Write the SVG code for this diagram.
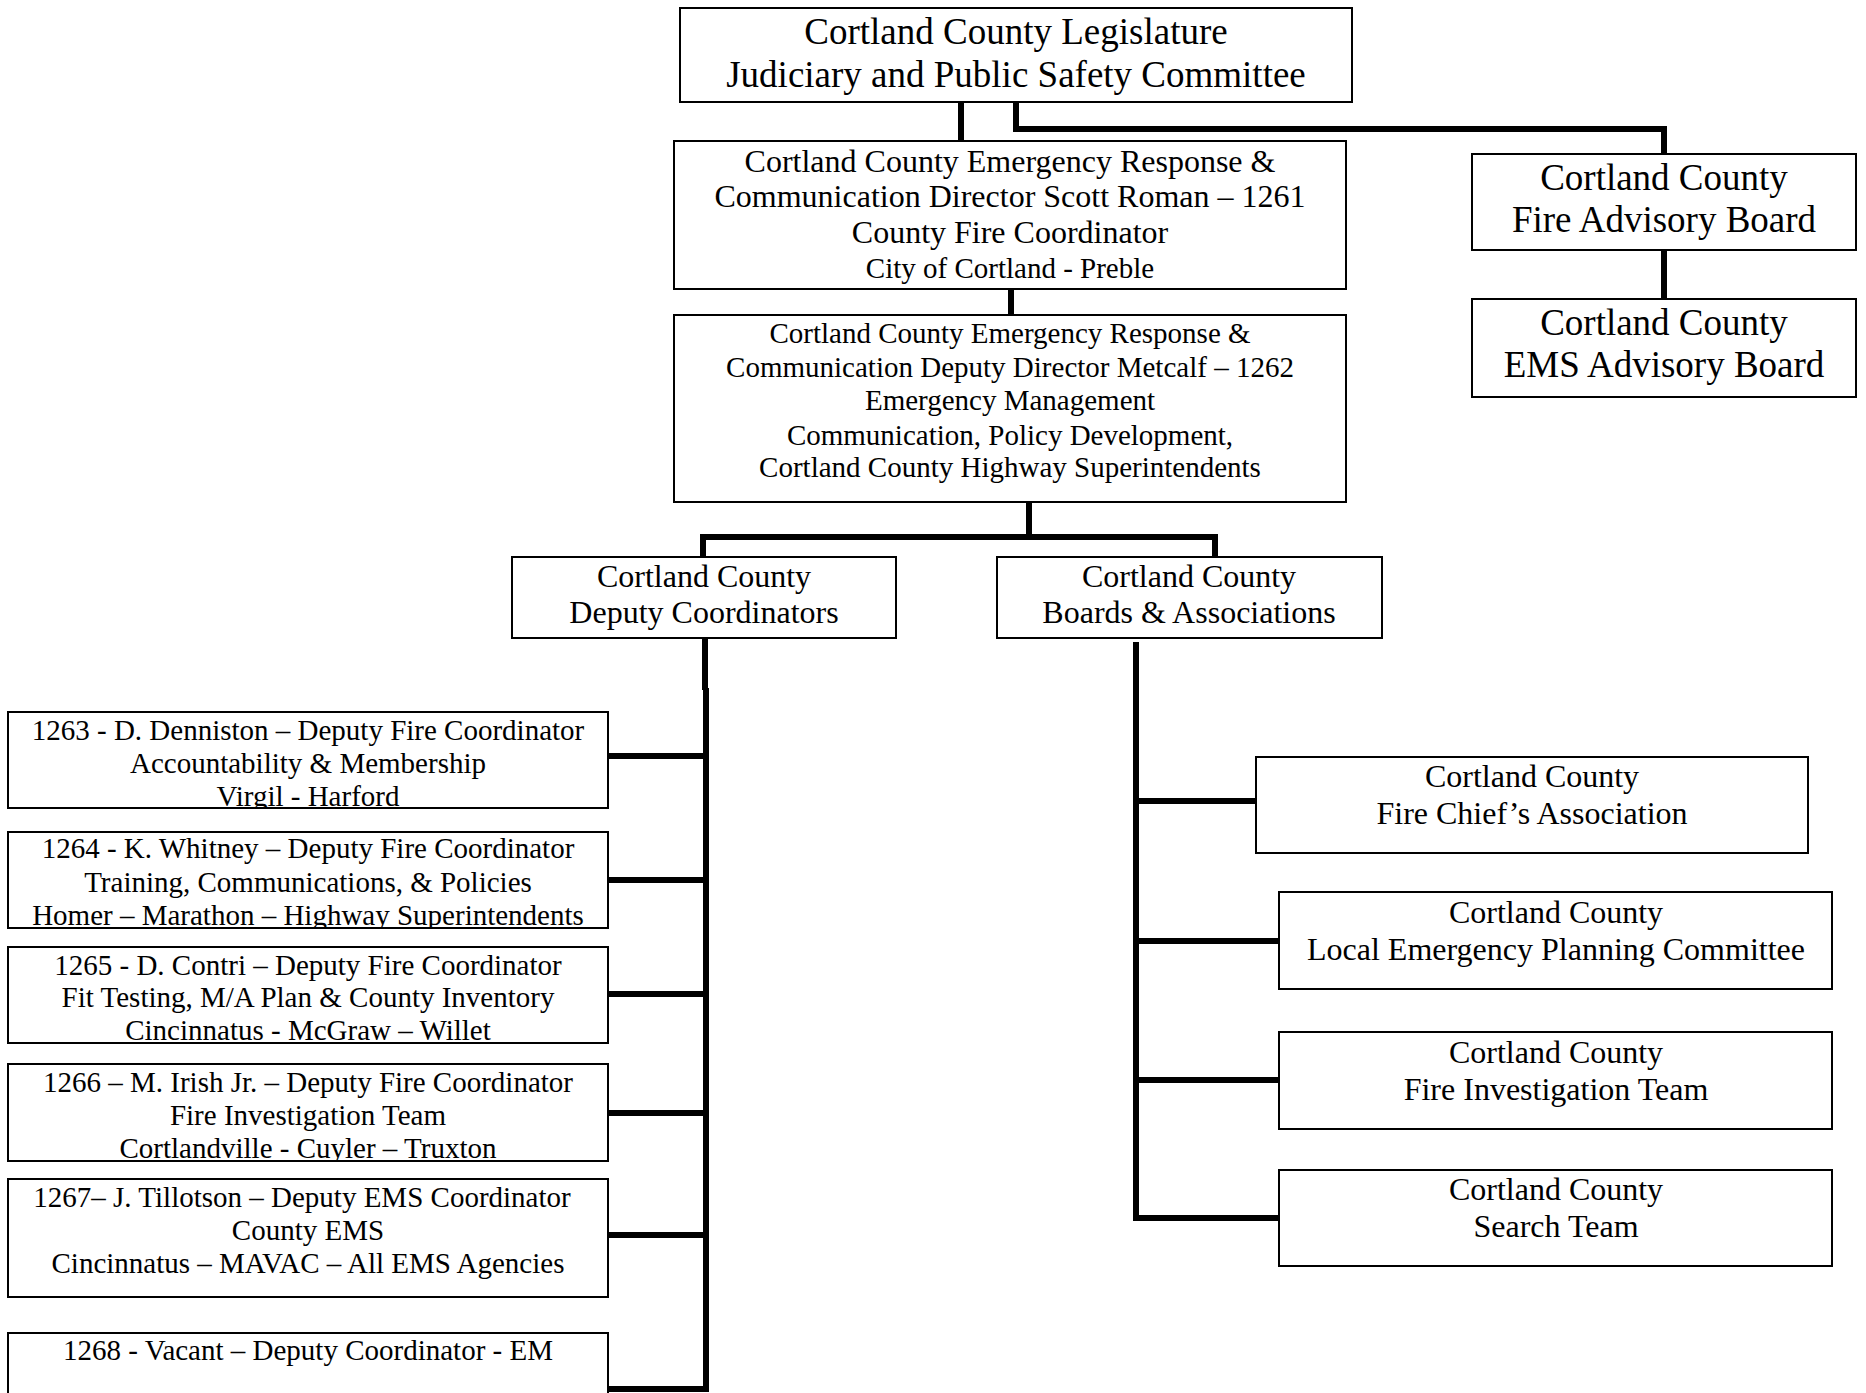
<svg xmlns="http://www.w3.org/2000/svg" width="1866" height="1393" viewBox="0 0 1866 1393">
<style>
.box{fill:#fff;stroke:#000;stroke-width:2}
.conn{fill:none;stroke:#000;stroke-width:6}
text{font-family:"Liberation Serif","Times New Roman",serif;fill:#000;text-anchor:middle}
.f37{font-size:37px}
.f32{font-size:32px}
.f29{font-size:29px}
</style>
<defs>
<clipPath id="c1263" clipPathUnits="userSpaceOnUse"><rect x="8" y="712" width="600" height="95"/></clipPath>
<clipPath id="c1264" clipPathUnits="userSpaceOnUse"><rect x="8" y="832" width="600" height="95"/></clipPath>
<clipPath id="c1265" clipPathUnits="userSpaceOnUse"><rect x="8" y="947" width="600" height="95"/></clipPath>
<clipPath id="c1266" clipPathUnits="userSpaceOnUse"><rect x="8" y="1064" width="600" height="96"/></clipPath>
</defs>
<rect width="1866" height="1393" fill="#fff"/>
<g id="connectors">
<path class="conn" d="M961 102V141"/>
<path class="conn" d="M1016 102V129H1664V154"/>
<path class="conn" d="M1664 250V299"/>
<path class="conn" d="M1011 289V315"/>
<path class="conn" d="M1029 502V537"/>
<path class="conn" d="M703 557V537H1215V557"/>
<path class="conn" d="M705 638V690"/>
<path class="conn" d="M706 688V1389H608"/>
<path class="conn" d="M608 756H705M608 880H706M608 994H706M608 1113H706M608 1235H706"/>
<path class="conn" d="M1136 642V1218H1279M1136 801H1256M1136 941H1279M1136 1080H1279"/>
</g>
<g id="legislature">
<rect class="box" x="680" y="8" width="672" height="94"/>
<text class="f37" x="1016" y="44">Cortland County Legislature</text>
<text class="f37" x="1016" y="87">Judiciary and Public Safety Committee</text>
</g>
<g id="director">
<rect class="box" x="674" y="141" width="672" height="148"/>
<text class="f32" x="1010" y="172">Cortland County Emergency Response &amp;</text>
<text class="f32" x="1010" y="207">Communication Director Scott Roman – 1261</text>
<text class="f32" x="1010" y="243">County Fire Coordinator</text>
<text class="f29" x="1010" y="278">City of Cortland - Preble</text>
</g>
<g id="deputy-director">
<rect class="box" x="674" y="315" width="672" height="187"/>
<text class="f29" x="1010" y="343">Cortland County Emergency Response &amp;</text>
<text class="f29" x="1010" y="377">Communication Deputy Director Metcalf – 1262</text>
<text class="f29" x="1010" y="410">Emergency Management</text>
<text class="f29" x="1010" y="445">Communication, Policy Development,</text>
<text class="f29" x="1010" y="477">Cortland County Highway Superintendents</text>
</g>
<g id="fire-advisory">
<rect class="box" x="1472" y="154" width="384" height="96"/>
<text class="f37" x="1664" y="190">Cortland County</text>
<text class="f37" x="1664" y="232">Fire Advisory Board</text>
</g>
<g id="ems-advisory">
<rect class="box" x="1472" y="299" width="384" height="98"/>
<text class="f37" x="1664" y="335">Cortland County</text>
<text class="f37" x="1664" y="377">EMS Advisory Board</text>
</g>
<g id="deputy-coordinators">
<rect class="box" x="512" y="557" width="384" height="81"/>
<text class="f32" x="704" y="587">Cortland County</text>
<text class="f32" x="704" y="623">Deputy Coordinators</text>
</g>
<g id="boards">
<rect class="box" x="997" y="557" width="385" height="81"/>
<text class="f32" x="1189" y="587">Cortland County</text>
<text class="f32" x="1189" y="623">Boards &amp; Associations</text>
</g>
<g id="d1263">
<rect class="box" x="8" y="712" width="600" height="96"/>
<g clip-path="url(#c1263)">
<text class="f29" x="308" y="740">1263 - D. Denniston – Deputy Fire Coordinator</text>
<text class="f29" x="308" y="773">Accountability &amp; Membership</text>
<text class="f29" x="308" y="806">Virgil - Harford</text>
</g>
</g>
<g id="d1264">
<rect class="box" x="8" y="832" width="600" height="96"/>
<g clip-path="url(#c1264)">
<text class="f29" x="308" y="858">1264 - K. Whitney – Deputy Fire Coordinator</text>
<text class="f29" x="308" y="892">Training, Communications, &amp; Policies</text>
<text class="f29" x="308" y="925">Homer – Marathon – Highway Superintendents</text>
</g>
</g>
<g id="d1265">
<rect class="box" x="8" y="947" width="600" height="96"/>
<g clip-path="url(#c1265)">
<text class="f29" x="308" y="975">1265 - D. Contri – Deputy Fire Coordinator</text>
<text class="f29" x="308" y="1007">Fit Testing, M/A Plan &amp; County Inventory</text>
<text class="f29" x="308" y="1040">Cincinnatus - McGraw – Willet</text>
</g>
</g>
<g id="d1266">
<rect class="box" x="8" y="1064" width="600" height="97"/>
<g clip-path="url(#c1266)">
<text class="f29" x="308" y="1092">1266 – M. Irish Jr. – Deputy Fire Coordinator</text>
<text class="f29" x="308" y="1125">Fire Investigation Team</text>
<text class="f29" x="308" y="1158">Cortlandville - Cuyler – Truxton</text>
</g>
</g>
<g id="d1267">
<rect class="box" x="8" y="1179" width="600" height="118"/>
<text class="f29" x="302" y="1207">1267– J. Tillotson – Deputy EMS Coordinator</text>
<text class="f29" x="308" y="1240">County EMS</text>
<text class="f29" x="308" y="1273">Cincinnatus – MAVAC – All EMS Agencies</text>
</g>
<g id="d1268">
<rect class="box" x="8" y="1333" width="600" height="80"/>
<text class="f29" x="308" y="1360">1268 - Vacant – Deputy Coordinator - EM</text>
</g>
<g id="fire-chiefs">
<rect class="box" x="1256" y="757" width="552" height="96"/>
<text class="f32" x="1532" y="787">Cortland County</text>
<text class="f32" x="1532" y="824">Fire Chief’s Association</text>
</g>
<g id="lepc">
<rect class="box" x="1279" y="892" width="553" height="97"/>
<text class="f32" x="1556" y="923">Cortland County</text>
<text class="f32" x="1556" y="960">Local Emergency Planning Committee</text>
</g>
<g id="fire-investigation">
<rect class="box" x="1279" y="1032" width="553" height="97"/>
<text class="f32" x="1556" y="1063">Cortland County</text>
<text class="f32" x="1556" y="1100">Fire Investigation Team</text>
</g>
<g id="search-team">
<rect class="box" x="1279" y="1170" width="553" height="96"/>
<text class="f32" x="1556" y="1200">Cortland County</text>
<text class="f32" x="1556" y="1237">Search Team</text>
</g>
</svg>
